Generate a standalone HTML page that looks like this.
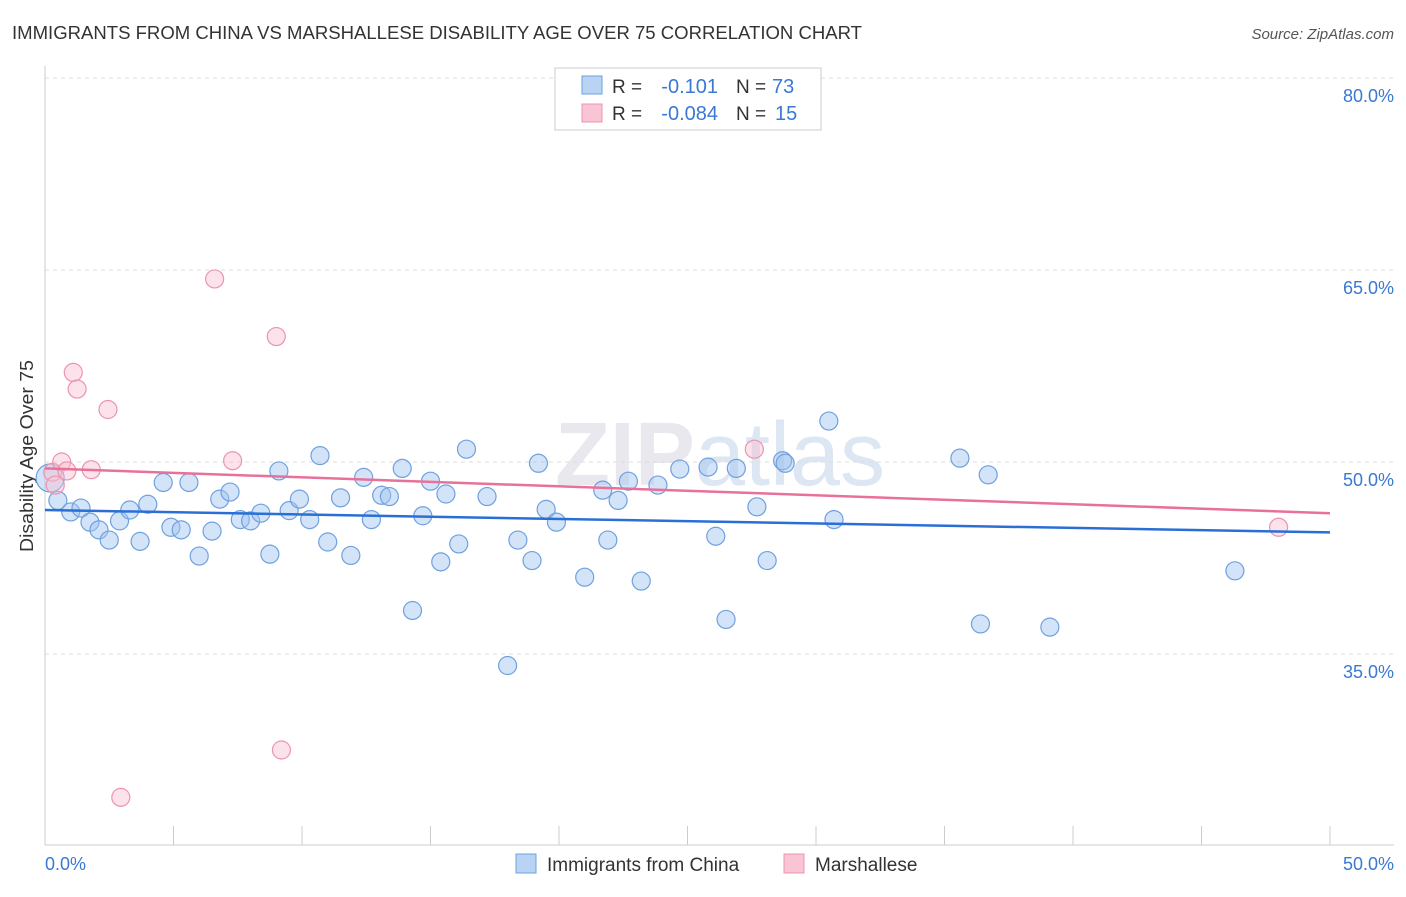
<!DOCTYPE html>
<html><head><meta charset="utf-8"><style>
body{margin:0;background:#fff;font-family:"Liberation Sans",sans-serif;}
svg text{font-family:"Liberation Sans",sans-serif;}
</style></head><body>
<svg id="c" width="1406" height="892" xmlns="http://www.w3.org/2000/svg">
<text x="12" y="39" font-size="18" fill="#333" textLength="850" lengthAdjust="spacingAndGlyphs">IMMIGRANTS FROM CHINA VS MARSHALLESE DISABILITY AGE OVER 75 CORRELATION CHART</text>
<text x="1394" y="39" font-size="15" fill="#555" font-style="italic" text-anchor="end">Source: ZipAtlas.com</text>
<text x="720" y="485" font-size="90" fill="#e8e8ee" text-anchor="middle" font-weight="bold">ZIP<tspan fill="#dde6f3" font-weight="normal">atlas</tspan></text>
<g id="grid"></g>
<line x1="45" y1="66" x2="45" y2="845" stroke="#ccc"/>
<line x1="45" y1="845" x2="1394" y2="845" stroke="#ccc"/>
<text transform="translate(33,456) rotate(-90)" font-size="18" fill="#333" text-anchor="middle" textLength="192" lengthAdjust="spacingAndGlyphs">Disability Age Over 75</text>
<text x="45" y="870" font-size="18" fill="#3a78d4">0.0%</text>
<text x="1394" y="870" font-size="18" fill="#3a78d4" text-anchor="end">50.0%</text>
<g id="pts"></g>
<g id="lines"></g>
<g>
<rect x="555" y="68" width="266" height="62" fill="#fff" stroke="#ccc"/>
<rect x="582" y="76" width="20" height="18" fill="#b9d3f5" stroke="#6fa0e0"/>
<rect x="582" y="104" width="20" height="18" fill="#f9c5d4" stroke="#ec94ae"/>
<text x="612" y="93" font-size="19" fill="#333">R =</text>
<text x="718" y="93" font-size="20" fill="#3a78d4" text-anchor="end">-0.101</text>
<text x="736" y="93" font-size="19" fill="#333">N =</text>
<text x="772" y="93" font-size="20" fill="#3a78d4">73</text>
<text x="612" y="120" font-size="19" fill="#333">R =</text>
<text x="718" y="120" font-size="20" fill="#3a78d4" text-anchor="end">-0.084</text>
<text x="736" y="120" font-size="19" fill="#333">N =</text>
<text x="775" y="120" font-size="20" fill="#3a78d4">15</text>
</g>
<g>
<rect x="516" y="854" width="20" height="19" fill="#b9d3f5" stroke="#6fa0e0"/>
<text x="547" y="871" font-size="19" fill="#333">Immigrants from China</text>
<rect x="784" y="854" width="20" height="19" fill="#f9c5d4" stroke="#ec94ae"/>
<text x="815" y="871" font-size="19" fill="#333">Marshallese</text>
</g>
</svg>
<script>
const yTicks=[35,50,65,80];
const xTickCount=10;
const blueX=[0.2,0.5,1.0,1.4,1.75,2.1,2.5,2.9,3.3,3.7,4.0,4.6,4.9,5.3,5.6,6.0,6.5,6.8,7.2,7.6,8.0,8.4,8.75,9.1,9.5,9.9,10.3,10.7,11.0,11.5,11.9,12.4,12.7,13.1,13.4,13.9,14.3,14.7,15.0,15.4,15.6,16.1,16.4,17.2,18.0,18.4,18.95,19.2,19.5,19.9,21.0,21.7,21.9,22.3,22.7,23.2,23.85,24.7,25.8,26.1,26.5,26.9,27.7,28.1,28.7,28.8,30.5,30.7,35.6,36.4,36.7,39.1,46.3];
const blueY=[48.75,47.0,46.1,46.4,45.3,44.7,43.9,45.4,46.25,43.8,46.7,48.4,44.9,44.7,48.4,42.65,44.6,47.1,47.65,45.5,45.4,46.0,42.8,49.3,46.2,47.1,45.5,50.5,43.75,47.2,42.7,48.8,45.5,47.4,47.3,49.5,38.4,45.8,48.5,42.2,47.5,43.6,51.0,47.3,34.1,43.9,42.3,49.9,46.3,45.3,41.0,47.8,43.9,47.0,48.5,40.7,48.2,49.45,49.6,44.2,37.7,49.5,46.5,42.3,50.1,49.9,53.2,45.5,50.3,37.35,49.0,37.1,41.5];
const pinkX=[0.3,0.4,0.65,0.85,1.1,1.25,1.8,2.45,6.6,7.3,9.0,9.2,2.95,27.6,48.0];
const pinkY=[49.2,48.2,50.0,49.3,57.0,55.7,49.4,54.1,64.3,50.1,59.8,27.5,23.8,51.0,44.9];
const blueTrend=[46.25,44.5];
const pinkTrend=[49.5,46.0];
const NS='http://www.w3.org/2000/svg';
const sx=v=>45+v/50*1285;
const sy=v=>462-(v-50)*12.8;
function mk(t,a,p){const e=document.createElementNS(NS,t);for(const k in a)e.setAttribute(k,a[k]);p.appendChild(e);return e;}
const grid=document.getElementById('grid');
yTicks.forEach(t=>{
 const l=mk('line',{x1:45,x2:1394,y1:sy(t),y2:sy(t),stroke:'#ddd','stroke-dasharray':'4,4'},grid);
 
 
 const tx=mk('text',{x:1394,y:sy(t)+24,'font-size':18,fill:'#3a78d4','text-anchor':'end'},grid);
 tx.textContent=t.toFixed(1)+'%';
 
 
});
for(let i=1;i<=xTickCount;i++){
 const l=mk('line',{x1:sx(i*5),x2:sx(i*5),y1:826,y2:845,stroke:'#ccc'},grid);
 
 
}
const pts=document.getElementById('pts');
blueX.forEach((x,i)=>{
 const c=mk('circle',{cx:sx(x),cy:sy(blueY[i]),r:i==0?14:9,fill:'rgba(160,195,240,0.45)',stroke:'#6fa0e0','stroke-width':1.2},pts);
 
 
});
pinkX.forEach((x,i)=>{
 const c=mk('circle',{cx:sx(x),cy:sy(pinkY[i]),r:9,fill:'rgba(248,190,208,0.45)',stroke:'#ec94ae','stroke-width':1.2},pts);
 
 
});
const lines=document.getElementById('lines');
const bl=mk('line',{x1:sx(0),x2:sx(50),y1:sy(blueTrend[0]),y2:sy(blueTrend[1]),stroke:'#2a6fd6','stroke-width':2.5},lines);


const pl=mk('line',{x1:sx(0),x2:sx(50),y1:sy(pinkTrend[0]),y2:sy(pinkTrend[1]),stroke:'#e8719a','stroke-width':2.5},lines);


</script>
</body></html>
